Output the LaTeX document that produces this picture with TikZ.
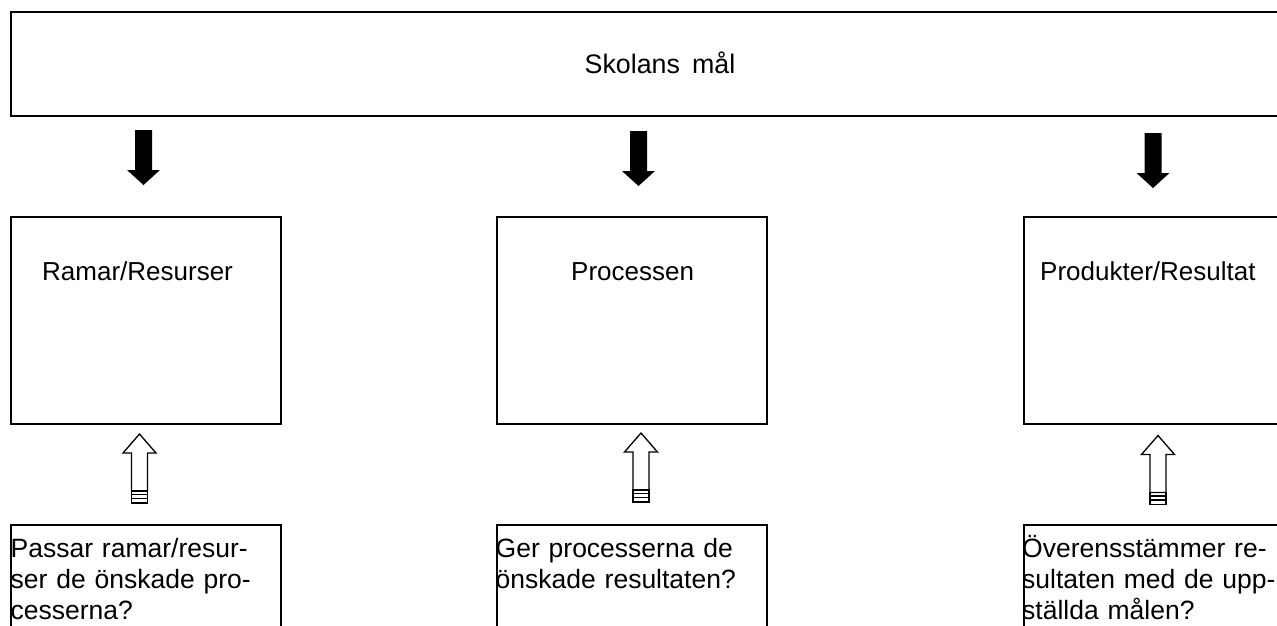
\documentclass[tikz,border=0pt]{standalone}
\usepackage{fontspec}
\setmainfont{Liberation Sans}
\begin{document}
\begin{tikzpicture}[x=1pt,y=-1pt,
  box/.style={draw,line width=2pt,anchor=north west,inner sep=0pt,minimum height=207pt},
  qbox/.style={draw,line width=2pt,anchor=north west,inner sep=0pt,minimum height=150pt},
  lbl/.style={anchor=base west,inner sep=0pt,font=\fontsize{26}{31}\selectfont},
  qtext/.style={anchor=base west,inner sep=0pt,text width=262pt,align=left,font=\fontsize{26.5}{31}\selectfont},
  blackdown/.pic={\fill[black] (-8.5,0) -- (8.5,0) -- (8.5,40) -- (16.5,40) -- (0,55) -- (-16.5,40) -- (-8.5,40) -- cycle;},
  hollowup/.pic={\draw[line width=1.3pt,line join=miter] (0,0) -- (16.5,19) -- (8,19) -- (8,57) -- (-8,57) -- (-8,19) -- (-16.5,19) -- cycle;
    \draw[line width=1.3pt] (-8,57) rectangle (8,69);
    \draw[line width=1.3pt] (-8,60.5) -- (8,60.5) (-8,64.5) -- (8,64.5);}
]
\useasboundingbox (0,0) rectangle (1277,625);
\clip (0,0) rectangle (1277,625);
% top box
\node[draw,line width=2pt,anchor=north west,inner sep=0pt,minimum width=1300pt,minimum height=104pt] (goal) at (10,11) {};
\node[anchor=base,inner sep=0pt,font=\fontsize{26.8}{31}\selectfont] (goaltxt) at (660,73) {Skolans\hspace{0.45em}mål};
% middle boxes
\node[box,minimum width=270pt] (ram) at (10,216) {};
\node[box,minimum width=270pt] (proc) at (496,216) {};
\node[box,minimum width=300pt] (prod) at (1023,216) {};
\node[lbl] (ramtxt) at (42,280) {Ramar/Resurser};
\node[lbl] (proctxt) at (571,280) {Processen};
\node[lbl] (prodtxt) at (1040,280) {Produkter/Resultat};
% bottom boxes
\node[qbox,minimum width=270pt] (q1) at (10,524) {};
\node[qbox,minimum width=270pt] (q2) at (496,524) {};
\node[qbox,minimum width=300pt] (q3) at (1023,524) {};
\node[qtext] (q1txt) at (10.5,557) {Passar ramar/resur-\\ser de önskade pro-\\cesserna?};
\node[qtext] (q2txt) at (495.5,557) {Ger processerna de\\önskade resultaten?};
\node[qtext] (q3txt) at (1022,557) {Överensstämmer re-\\sultaten med de upp-\\ställda målen?};
% black arrows
\pic at (143.5,130) {blackdown};
\pic at (638.5,131) {blackdown};
\pic at (1153,133) {blackdown};
% hollow arrows
\pic at (139.5,434) {hollowup};
\pic at (641,433) {hollowup};
\pic at (1158,435.5) {hollowup};
\end{tikzpicture}
\end{document}
